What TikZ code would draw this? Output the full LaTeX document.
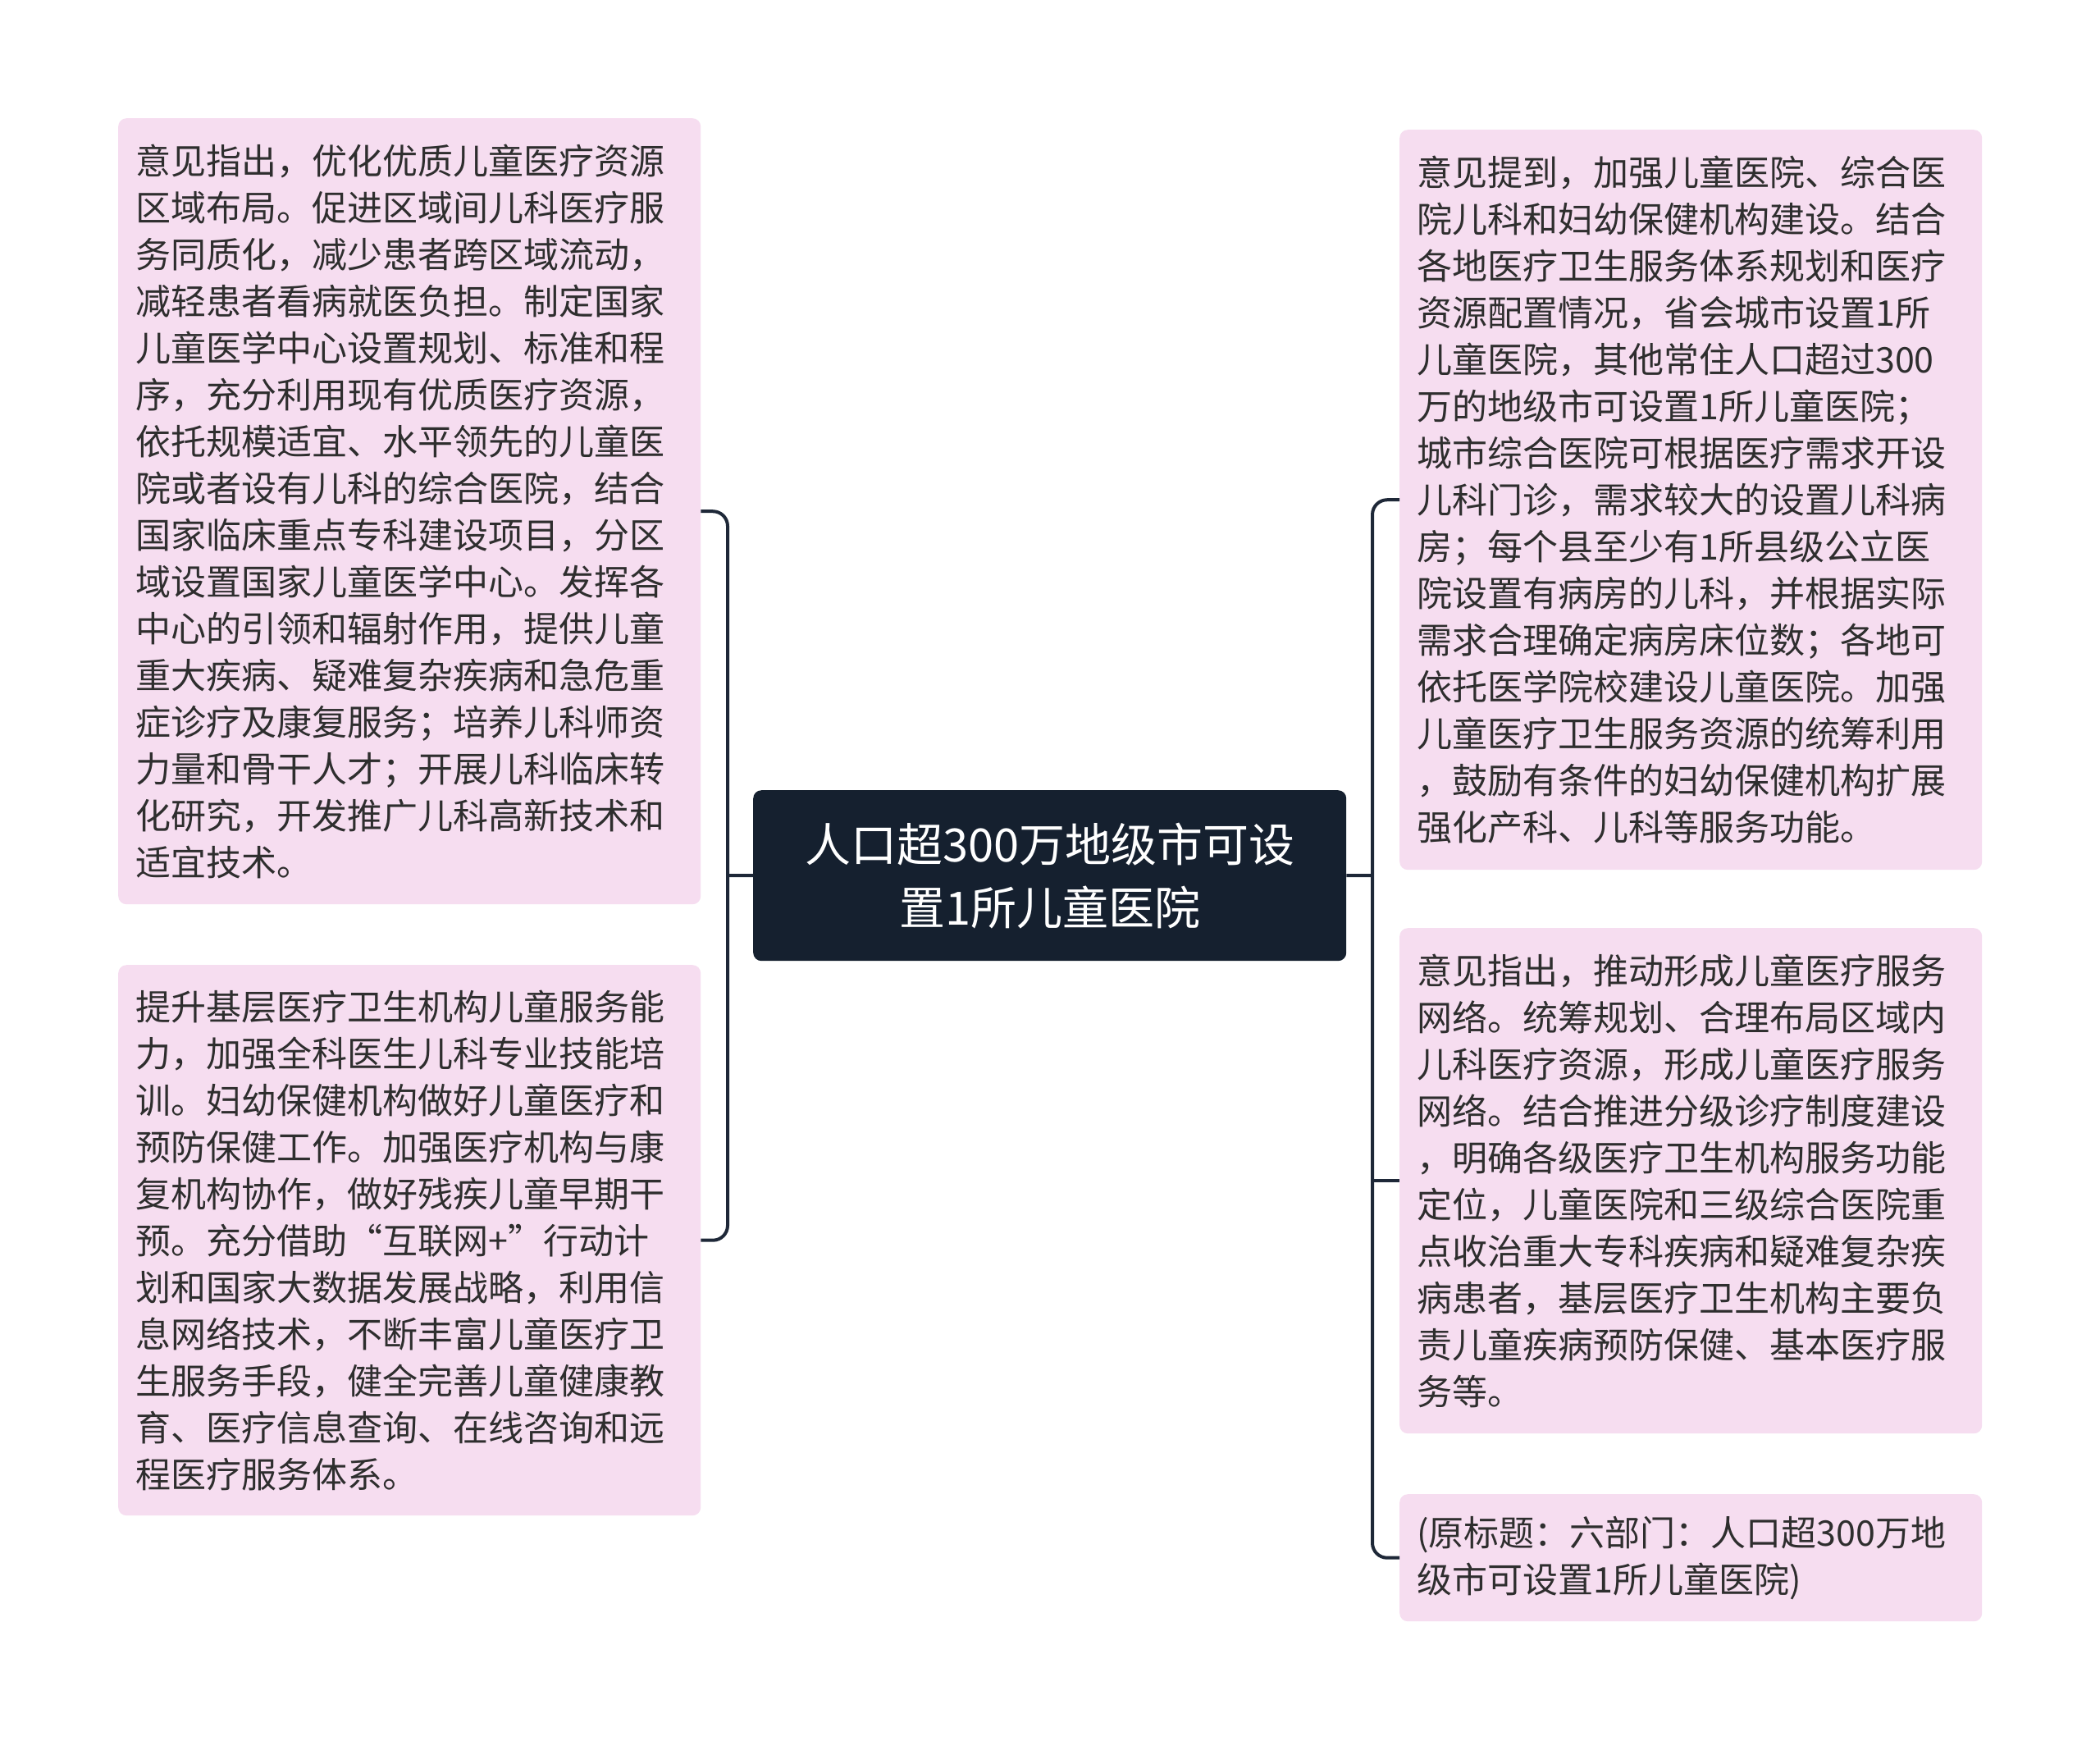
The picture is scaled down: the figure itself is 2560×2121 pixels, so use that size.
\documentclass[tikz,border=0pt]{standalone}
\usepackage{fontspec}
\setmainfont{Noto Sans CJK SC}
\usetikzlibrary{positioning}
\definecolor{ink}{HTML}{2E2E2E}
\definecolor{navy}{HTML}{15202F}
\definecolor{wire}{HTML}{1E2838}
\definecolor{blush}{HTML}{F6DDF0}
\newcommand{\leaffont}{\fontsize{43bp}{57bp}\selectfont}
\newcommand{\rootfont}{\fontsize{56bp}{77bp}\selectfont}

\begin{document}
\begin{tikzpicture}[
  x=1bp,y=-1bp,
  leaf/.style={fill=blush,rounded corners=10bp,anchor=north west,align=left,
               text=ink,font=\leaffont,text width=668bp,inner xsep=21bp,inner ysep=0pt},
  root/.style={fill=navy,rounded corners=10bp,anchor=north west,align=center,
               text=white,font=\rootfont,minimum width=723bp,minimum height=208bp},
  link/.style={draw=wire,line width=4bp,rounded corners=18bp}
]
\fill[white] (0,0) rectangle (2560,2121);

\node[root] (root) at (918,963) {人口超300万地级市可设\\置1所儿童医院};

% left side
\node[leaf,minimum height=958bp] (left1) at (144,144)
  {意见指出，优化优质儿童医疗资源\\区域布局。促进区域间儿科医疗服\\务同质化，减少患者跨区域流动，\\减轻患者看病就医负担。制定国家\\儿童医学中心设置规划、标准和程\\序，充分利用现有优质医疗资源，\\依托规模适宜、水平领先的儿童医\\院或者设有儿科的综合医院，结合\\国家临床重点专科建设项目，分区\\域设置国家儿童医学中心。发挥各\\中心的引领和辐射作用，提供儿童\\重大疾病、疑难复杂疾病和急危重\\症诊疗及康复服务；培养儿科师资\\力量和骨干人才；开展儿科临床转\\化研究，开发推广儿科高新技术和\\适宜技术。};
\node[leaf,minimum height=671bp] (left2) at (144,1176)
  {提升基层医疗卫生机构儿童服务能\\力，加强全科医生儿科专业技能培\\训。妇幼保健机构做好儿童医疗和\\预防保健工作。加强医疗机构与康\\复机构协作，做好残疾儿童早期干\\预。充分借助“互联网+”行动计\\划和国家大数据发展战略，利用信\\息网络技术，不断丰富儿童医疗卫\\生服务手段，健全完善儿童健康教\\育、医疗信息查询、在线咨询和远\\程医疗服务体系。};

% right side
\node[leaf,minimum height=902bp] (right1) at (1706,158)
  {意见提到，加强儿童医院、综合医\\院儿科和妇幼保健机构建设。结合\\各地医疗卫生服务体系规划和医疗\\资源配置情况，省会城市设置1所\\儿童医院，其他常住人口超过300\\万的地级市可设置1所儿童医院；\\城市综合医院可根据医疗需求开设\\儿科门诊，需求较大的设置儿科病\\房；每个县至少有1所县级公立医\\院设置有病房的儿科，并根据实际\\需求合理确定病房床位数；各地可\\依托医学院校建设儿童医院。加强\\儿童医疗卫生服务资源的统筹利用\\，鼓励有条件的妇幼保健机构扩展\\强化产科、儿科等服务功能。};
\node[leaf,minimum height=616bp] (right2) at (1706,1131)
  {意见指出，推动形成儿童医疗服务\\网络。统筹规划、合理布局区域内\\儿科医疗资源，形成儿童医疗服务\\网络。结合推进分级诊疗制度建设\\，明确各级医疗卫生机构服务功能\\定位，儿童医院和三级综合医院重\\点收治重大专科疾病和疑难复杂疾\\病患者，基层医疗卫生机构主要负\\责儿童疾病预防保健、基本医疗服\\务等。};
\node[leaf,minimum height=155bp] (right3) at (1706,1821)
  {(原标题：六部门：人口超300万地\\级市可设置1所儿童医院)};

\coordinate (lhub) at (887,1067);
\coordinate (rhub) at (1673,1067);

\draw[link] (left1.east) -| (lhub) |- (left2.east);
\draw[link] (root.west) -- (lhub);
\draw[link] (right1.west) -| (rhub) |- (right3.west);
\draw[link] (root.east) -- (rhub);
\draw[link] (rhub |- right2.west) -- (right2.west);
\end{tikzpicture}
\end{document}
